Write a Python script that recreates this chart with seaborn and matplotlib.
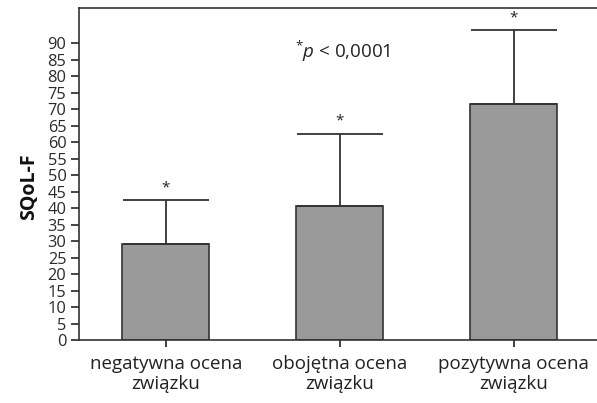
import numpy as np
import pandas as pd
import matplotlib
matplotlib.use("Agg")
import matplotlib.pyplot as plt
import seaborn as sns

categories = ["negatywna ocena\nzwiązku", "obojętna ocena\nzwiązku", "pozytywna ocena\nzwiązku"]
means = [29.1, 40.5, 71.7]
upper_err = [13.3, 22.0, 22.2]
y_ticks = list(range(0, 95, 5))

sns.set_style("ticks")
plt.rcParams["font.family"] = ["Open Sans", "DejaVu Sans"]
plt.rcParams["mathtext.fontset"] = "custom"
plt.rcParams["mathtext.rm"] = "Open Sans"
plt.rcParams["mathtext.it"] = "Open Sans:italic"

df = pd.DataFrame({"grupa": categories, "sqol": means})

fig = plt.figure(figsize=(5.97, 4.03), dpi=100)
ax = fig.add_axes([0.1323, 0.1563, 0.8677, 0.825])

sns.barplot(data=df, x="grupa", y="sqol", ax=ax, width=0.5, color="#9a9a9a",
            edgecolor="#333333", linewidth=1.2, saturation=1, errorbar=None)

# upper error bars only, cap as wide as the bar
cap_px = 0.5 * 173.5 / 2
ax.errorbar(np.arange(len(means)), means, yerr=[np.zeros(len(means)), upper_err],
            fmt="none", ecolor="#333333", elinewidth=1.3, capthick=1.3,
            capsize=cap_px * 72 / fig.dpi, zorder=1)

for i, (m, e) in enumerate(zip(means, upper_err)):
    ax.text(i, m + e + 1.5, "*", ha="center", va="bottom", fontsize=11, color="#222222")

ax.text(1.02, 87.5, r"$^{*}\mathit{p}$ < 0,0001", ha="center", va="center",
        fontsize=13.5, color="#222222")

ax.set_xlim(-0.5, 2.48)
ax.set_ylim(0, 100.8)
ax.set_yticks(y_ticks)
ax.set_yticklabels([str(t) for t in y_ticks], fontsize=11.8, color="#2a2a2a")
ax.tick_params(axis="x", labelsize=13.5, colors="#222222", length=5, width=1.2, pad=6)
for lbl in ax.get_xticklabels():
    lbl.set_linespacing(1.1)
ax.tick_params(axis="y", length=5.5, width=1.2, pad=3.5)
ax.set_xlabel("")
ax.set_ylabel("SQoL-F", fontsize=14, fontweight="bold", color="#111111")
ax.yaxis.set_label_coords(-0.077, 0.46)
for s in ["left", "top", "bottom"]:
    ax.spines[s].set_linewidth(1.2)
    ax.spines[s].set_color("#333333")
ax.spines["right"].set_visible(False)

fig.savefig("out.png", dpi=100)
